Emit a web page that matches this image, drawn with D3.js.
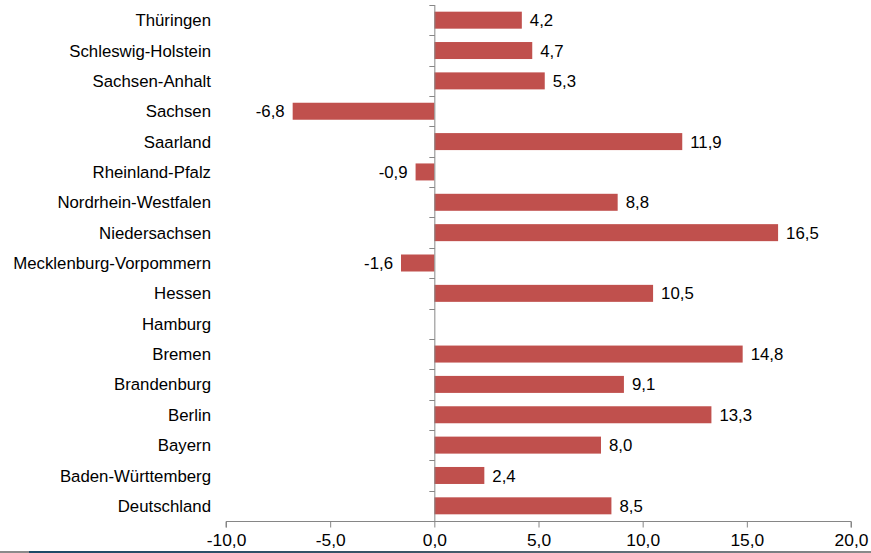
<!DOCTYPE html>
<html>
<head>
<meta charset="utf-8">
<script src="https://cdn.jsdelivr.net/npm/d3@7"></script>
<style>
  html, body { margin: 0; padding: 0; background: #fff; }
  svg { display: block; }
  text { font-family: "Liberation Sans", Arial, sans-serif; fill: #000; }
</style>
</head>
<body>
<svg id="chart" width="871" height="553"></svg>
<script>
// Federal states, top to bottom as listed on the category axis
const states = [
  "Thüringen", "Schleswig-Holstein", "Sachsen-Anhalt", "Sachsen", "Saarland",
  "Rheinland-Pfalz", "Nordrhein-Westfalen", "Niedersachsen", "Mecklenburg-Vorpommern",
  "Hessen", "Hamburg", "Bremen", "Brandenburg", "Berlin", "Bayern",
  "Baden-Württemberg", "Deutschland"
];
// Change in percent (Hamburg has no value)
const values = [4.2, 4.7, 5.3, -6.8, 11.9, -0.9, 8.8, 16.5, -1.6, 10.5, null, 14.8, 9.1, 13.3, 8.0, 2.4, 8.5];
const xTicks = [-10, -5, 0, 5, 10, 15, 20];

const svg = d3.select("#chart");
const fmt = v => d3.format(".1f")(v).replace(".", ",").replace("−", "-");
const fontSize = "16.8px";

const x = d3.scaleLinear().domain([-10, 20]).range([226, 851]);
const y = d3.scaleBand().domain(states).range([5, 521]).paddingInner(0.44).paddingOuter(0.22);
const step = y.step();
const axisColor = "#868686";

// Bars
svg.append("g").selectAll("rect")
  .data(states.map((s, i) => ({ s, v: values[i] })).filter(d => d.v !== null))
  .join("rect")
  .attr("x", d => x(Math.min(0, d.v)))
  .attr("y", d => y(d.s))
  .attr("width", d => Math.abs(x(d.v) - x(0)))
  .attr("height", y.bandwidth())
  .attr("fill", "#C0504D");

// Value labels
svg.append("g").selectAll("text")
  .data(states.map((s, i) => ({ s, v: values[i] })).filter(d => d.v !== null))
  .join("text")
  .attr("x", d => d.v >= 0 ? x(d.v) + 8 : x(d.v) - 8)
  .attr("y", d => y(d.s) + y.bandwidth() / 2)
  .attr("dy", "0.36em")
  .attr("text-anchor", d => d.v >= 0 ? "start" : "end")
  .style("font-size", fontSize)
  .text(d => fmt(d.v));

// Category axis at zero
const yAxis = svg.append("g");
yAxis.append("line")
  .attr("x1", x(0) + 0.5).attr("x2", x(0) + 0.5)
  .attr("y1", 5).attr("y2", 521)
  .attr("stroke", axisColor);
yAxis.selectAll("line.tick")
  .data(d3.range(states.length + 1))
  .join("line").attr("class", "tick")
  .attr("x1", x(0) - 5).attr("x2", x(0) + 0.5)
  .attr("y1", i => Math.round(5 + i * step) + 0.5)
  .attr("y2", i => Math.round(5 + i * step) + 0.5)
  .attr("stroke", axisColor);

// Category labels
svg.append("g").selectAll("text")
  .data(states)
  .join("text")
  .attr("x", 211)
  .attr("y", d => y(d) + y.bandwidth() / 2)
  .attr("dy", "0.36em")
  .attr("text-anchor", "end")
  .style("font-size", fontSize)
  .text(d => d);

// Value axis
const xAxis = svg.append("g").attr("transform", "translate(0,521.5)")
  .call(d3.axisBottom(x).tickValues(xTicks).tickSize(6).tickPadding(6).tickFormat(fmt));
xAxis.select(".domain").attr("stroke", axisColor).attr("d", `M${x(-10)},6V0H${x(20)}V6`);
xAxis.selectAll(".tick line").attr("stroke", axisColor);
xAxis.selectAll(".tick text")
  .style("font-size", "17.4px")
  .style("font-family", "'Liberation Sans', Arial, sans-serif")
  .attr("fill", "#000");

// Bottom edge rule
const grad = svg.append("defs").append("linearGradient")
  .attr("id", "edge").attr("x1", 0).attr("x2", 1);
grad.append("stop").attr("offset", "0").attr("stop-color", "#1d4a68");
grad.append("stop").attr("offset", "0.45").attr("stop-color", "#3a5566");
grad.append("stop").attr("offset", "1").attr("stop-color", "#8a8a8a");
svg.append("rect").attr("x", 0).attr("y", 551).attr("width", 29).attr("height", 2).attr("fill", "#8a8a8a");
svg.append("rect").attr("x", 29).attr("y", 551).attr("width", 842).attr("height", 2).attr("fill", "url(#edge)");
</script>
</body>
</html>
